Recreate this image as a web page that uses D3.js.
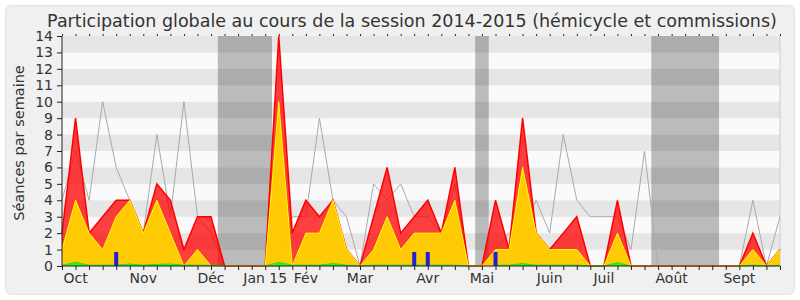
<!DOCTYPE html>
<meta charset="utf-8">
<style>
body { margin: 0; background: #fff; }
text { font-family: "DejaVu Sans", sans-serif; fill: #333; }
.axis path, .axis line { stroke: #222; }
.axis text { font-size: 14px; fill: #333; font-family: "DejaVu Sans", sans-serif; }
</style>
<svg width="800" height="300"></svg>
<script src="https://d3js.org/d3.v7.min.js"></script>
<script>

// one value per week, from the first week of October 2014 on
var commissions = [2,9,2,3,4,4,2,5,4,1,3,3,0,0,0,0,14,2,4,3,4,1,0,3,6,2,3,4,2,6,0,0,4,1,9,2,1,2,3,0,0,4,0,0,0,0,0,0,0,0,0,2,0,1];
var hemicycle   = [1,4,2,1,3,4,2,4,2,0,1,0,0,0,0,0,10,0,2,2,4,1,0,1,3,1,2,2,2,4,0,0,1,1,6,2,1,1,1,0,0,2,0,0,0,0,0,0,0,0,0,1,0,1];
var mediane     = [4,7,4,10,6,4,2,8,3,10,3,2,0,0,0,0,0,3,3,9,4,3,0,5,4,5,3,3,2,5,0,0,1,2,2,4,2,8,4,3,3,3,1,7,0,0,0,0,0,0,0,4,0,3];
var interventions = [0.05,0.22,0.05,0.05,0.05,0.12,0.05,0.1,0.12,0.05,0.05,0.04,0,null,null,0,0.22,0.05,0.05,0.05,0.15,0.05,0,0.05,0.05,0.05,0.05,0.05,0.05,0.05,0,null,0.05,0.05,0.15,0.05,0.05,0.05,0.05,0,0,0.2,0,null,null,null,null,null,null,null,0,0.05,0,0.05];
var questions   = [0,0,0,0,0.85,0,0,0,0,0,0,0,0,0,0,0,0,0,0,0,0,0,0,0,0,0,0.85,0.85,0,0,0,0,0.85,0,0,0,0,0,0,0,0,0,0,0,0,0,0,0,0,0,0,0,0,0];

var vacances = [[11.5, 15.5], [30.5, 31.5], [43.5, 48.5]];
var moisLabels = ["Oct", "Nov", "Déc", "Jan 15", "Fév", "Mar", "Avr", "Mai", "Juin", "Juil", "Août", "Sept"];
var moisSemaines = [1, 6, 11, 15, 18, 22, 27, 31, 36, 40, 45, 50];
var yTicks = d3.range(0, 15);

var svg = d3.select("svg");

svg.append("rect")
    .attr("x", 5.5).attr("y", 5.5)
    .attr("width", 789).attr("height", 289)
    .attr("rx", 6)
    .style("fill", "#f0f0f0")
    .style("stroke", "#e2e2e2");

svg.append("text")
    .attr("x", 412).attr("y", 27)
    .attr("text-anchor", "middle")
    .style("font-size", "17.5px")
    .text("Participation globale au cours de la session 2014-2015 (hémicycle et commissions)");

var x = d3.scaleLinear().domain([0, commissions.length - 1]).range([62, 780]),
    y = d3.scaleLinear().domain([0, 14]).range([266, 36]);

var weeks = d3.range(commissions.length);

// bandes horizontales
svg.append("g").selectAll("rect")
  .data(d3.range(0, 14))
  .enter().append("rect")
    .attr("x", x(0))
    .attr("y", function(d) { return y(d + 1); })
    .attr("width", x(weeks.length - 1) - x(0))
    .attr("height", function(d) { return y(d) - y(d + 1); })
    .style("fill", function(d) { return d % 2 ? "#e6e6e6" : "#fafafa"; });

svg.append("line")
    .attr("x1", x(weeks.length - 1)).attr("x2", x(weeks.length - 1))
    .attr("y1", y(14)).attr("y2", y(0))
    .style("stroke", "#ccc");

// vacances parlementaires
svg.append("g").selectAll("rect")
  .data(vacances)
  .enter().append("rect")
    .attr("x", function(d) { return x(d[0]); })
    .attr("y", y(14))
    .attr("width", function(d) { return x(d[1]) - x(d[0]); })
    .attr("height", y(0) - y(14))
    .style("fill", "rgba(0,0,0,0.25)");

var line = d3.line()
    .defined(function(d) { return d[1] != null; })
    .x(function(d) { return x(d[0]); })
    .y(function(d) { return y(d[1]); });

var area = d3.area()
    .defined(function(d) { return d[1] != null; })
    .x(function(d) { return x(d[0]); })
    .y0(y(0))
    .y1(function(d) { return y(d[1]); });

function pairs(values) { return values.map(function(v, i) { return [i, v]; }); }

svg.append("path")
    .attr("d", line(pairs(mediane)))
    .style("fill", "none")
    .style("stroke", "#aaa")
    .style("stroke-width", 1);

svg.append("path")
    .attr("d", area(pairs(commissions)))
    .style("fill", "rgba(255,0,0,0.75)");
svg.append("path")
    .attr("d", line(pairs(commissions)))
    .style("fill", "none")
    .style("stroke", "#ff0000")
    .style("stroke-width", 1.5);

svg.append("path")
    .attr("d", area(pairs(hemicycle)))
    .style("fill", "rgba(255,215,0,0.92)");
svg.append("path")
    .attr("d", line(pairs(hemicycle)))
    .style("fill", "none")
    .style("stroke", "#ffff00")
    .style("stroke-width", 1);

svg.append("path")
    .attr("d", area(pairs(interventions)))
    .style("fill", "rgba(0,255,0,0.8)");
svg.append("path")
    .attr("d", line(pairs(interventions)))
    .style("fill", "none")
    .style("stroke", "#22dd22")
    .style("stroke-width", 1);

svg.append("g").selectAll("rect")
  .data(pairs(questions).filter(function(d) { return d[1] > 0; }))
  .enter().append("rect")
    .attr("x", function(d) { return x(d[0]) - 2; })
    .attr("y", function(d) { return y(d[1]); })
    .attr("width", 4)
    .attr("height", function(d) { return y(0) - y(d[1]); })
    .style("fill", "#1f1fdc");

// axes
svg.append("g")
    .attr("class", "axis")
    .attr("transform", "translate(" + x(0) + ",0)")
    .call(d3.axisLeft(y).tickValues(yTicks).tickSize(5).tickPadding(4).tickFormat(d3.format("d")))
    .call(function(g) { g.select(".domain").attr("d", "M0," + y(14) + "V" + y(0)); });

svg.append("g")
    .attr("class", "axis")
    .attr("transform", "translate(0," + y(0) + ")")
    .call(d3.axisBottom(x).tickValues(weeks).tickSize(4).tickFormat(""))
    .call(function(g) { g.select(".domain").attr("d", "M" + x(0) + ",0H" + x(weeks.length - 1)); });

svg.append("g")
    .attr("class", "axis")
    .attr("transform", "translate(0," + y(14) + ")")
    .call(d3.axisTop(x).tickValues(weeks).tickSize(2).tickFormat(""))
    .call(function(g) { g.select(".domain").remove(); });

svg.append("g").selectAll("text")
  .data(moisSemaines)
  .enter().append("text")
    .attr("x", function(d) { return x(d); })
    .attr("y", 283)
    .attr("text-anchor", "middle")
    .style("font-size", "14px")
    .text(function(d, i) { return moisLabels[i]; });

svg.append("text")
    .attr("transform", "translate(24," + (y(7) - 8) + ") rotate(-90)")
    .attr("text-anchor", "middle")
    .style("font-size", "14.5px")
    .text("Séances par semaine");

</script>
